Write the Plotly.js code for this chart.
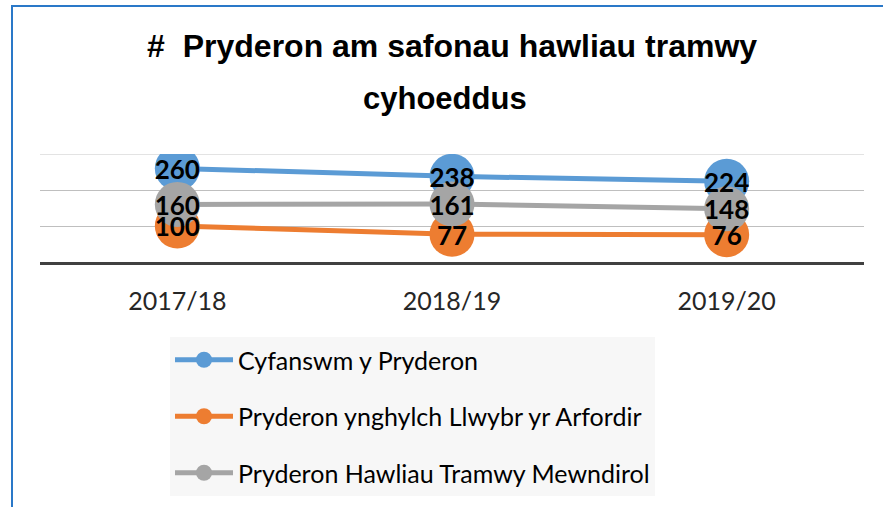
<!DOCTYPE html>
<html>
<head>
<meta charset="utf-8">
<script src="https://cdn.plot.ly/plotly-3.0.1.min.js"></script>
<style>
html,body{margin:0;padding:0;background:#fff;}
#wrap{position:relative;width:883px;height:507px;overflow:hidden;}
#frame{position:absolute;left:11px;top:5px;width:880px;height:520px;border-left:2px solid #2A78C8;border-top:2px solid #2A78C8;pointer-events:none;z-index:5;}
#chart{position:absolute;left:0;top:0;width:883px;height:507px;}
</style>
</head>
<body>
<div id="wrap"><div id="chart"></div><div id="frame"></div></div>
<script>
const years = ["2017/18", "2018/19", "2019/20"];
const seriesNames = ["Cyfanswm y Pryderon", "Pryderon ynghylch Llwybr yr Arfordir", "Pryderon Hawliau Tramwy Mewndirol"];
const totalValues = [260, 238, 224];
const coastValues = [100, 77, 76];
const inlandValues = [160, 161, 148];
const colors = ["#5B9BD5", "#ED7D31", "#A5A5A5"];

const allValues = [totalValues, coastValues, inlandValues];
const traces = [];
allValues.forEach((vals, i) => {
  traces.push({
    x: years, y: vals, name: seriesNames[i], type: "scatter", mode: "lines+markers",
    line: {color: colors[i], width: 5},
    marker: {color: colors[i], size: 45},
    legendgroup: "g" + i,
    hoverinfo: "skip"
  });
});
// data labels drawn on a twin axis nudged ~4px down so glyphs sit centred in the circles
allValues.forEach((vals, i) => {
  traces.push({
    x: years, y: vals, type: "scatter", mode: "text", yaxis: "y2",
    text: vals.map(String), textposition: "middle center",
    textfont: {family: "Lato, 'Open Sans', sans-serif", size: 26, color: "#000", weight: "bold"},
    showlegend: false, hoverinfo: "skip"
  });
});

const layout = {
  width: 883, height: 507,
  margin: {l: 40, r: 19, t: 154, b: 244},
  paper_bgcolor: "#fff", plot_bgcolor: "#fff",
  showlegend: true,
  title: {
    text: "#&nbsp; Pryderon am safonau hawliau tramwy",
    font: {family: "'Liberation Sans', Arial, sans-serif", size: 32, color: "#000", weight: "bold"},
    x: 0.512, xref: "container", xanchor: "center",
    y: 0.91, yref: "container", yanchor: "middle"
  },
  annotations: [{
    text: "cyhoeddus", showarrow: false,
    xref: "paper", yref: "paper", x: 0.492, y: 1 + (154 - 98) / 109,
    xanchor: "center", yanchor: "middle",
    font: {family: "'Liberation Sans', Arial, sans-serif", size: 31, color: "#000", weight: "bold"}
  }],
  xaxis: {
    type: "category", range: [-0.5, 2.5],
    showgrid: false, zeroline: false,
    showline: true, linecolor: "#404040", linewidth: 3,
    ticks: "", ticklabelstandoff: 15,
    tickfont: {family: "Lato, 'Open Sans', sans-serif", size: 25, color: "#262626"},
    fixedrange: true
  },
  yaxis: {
    range: [0, 300], tickvals: [100, 200], showticklabels: false,
    showgrid: true, gridcolor: "#BFBFBF", gridwidth: 1,
    zeroline: false, showline: false, ticks: "", fixedrange: true
  },
  yaxis2: {
    overlaying: "y", range: [11, 311], showticklabels: false, showgrid: false,
    zeroline: false, showline: false, ticks: "", fixedrange: true
  },
  shapes: [{
    type: "line", xref: "paper", yref: "y", x0: 0, x1: 1, y0: 300, y1: 300,
    line: {color: "#E3E3E3", width: 2}, layer: "below"
  }],
  legend: {
    x: (170 - 40) / 824, y: (263 - 337) / 109, xanchor: "left", yanchor: "top",
    bgcolor: "#F7F7F7", borderwidth: 0,
    font: {family: "Lato, 'Open Sans', sans-serif", size: 25, color: "#000"},
    traceorder: "grouped", tracegroupgap: 21, itemwidth: 58
  }
};
Plotly.newPlot("chart", traces, layout, {displayModeBar: false, staticPlot: true});
</script>
</body>
</html>
